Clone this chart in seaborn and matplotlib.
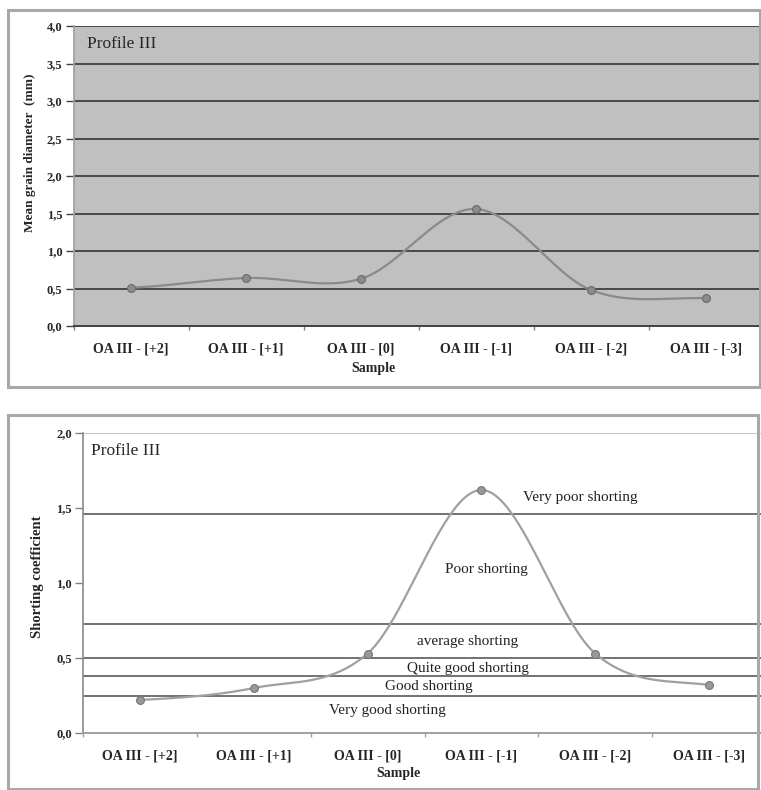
import matplotlib
matplotlib.use("Agg")
import matplotlib.pyplot as plt
import matplotlib.patches as mpatches
import numpy as np
import pandas as pd
import seaborn as sns

# Data
samples = ["OA III - [+2]", "OA III - [+1]", "OA III - [0]",
           "OA III - [-1]", "OA III - [-2]", "OA III - [-3]"]
grain_diameter = [0.51, 0.64, 0.63, 1.56, 0.48, 0.37]
sorting_coef = [0.22, 0.30, 0.53, 1.62, 0.53, 0.32]

# sorting class boundaries and their labels
class_limits = [1.46, 0.73, 0.50, 0.38, 0.25]
class_names = ["Very poor shorting", "Poor shorting", "average shorting",
               "Quite good shorting", "Good shorting", "Very good shorting"]
class_label_x = [3.87, 3.04, 2.88, 2.88, 2.54, 2.17]
class_label_y = [1.57, 1.09, 0.61, 0.43, 0.31, 0.15]

top_ticks = ["0,0", "0,5", "1,0", "1,5", "2,0", "2,5", "3,0", "3,5", "4,0"]
bottom_ticks = ["0,0", "0,5", "1,0", "1,5", "2,0"]

sns.set_theme(style="white")
plt.rcParams["font.family"] = ["Liberation Serif", "DejaVu Serif"]

W, H = 761, 790
fig = plt.figure(figsize=(W / 100, H / 100), dpi=100)


def fx(x):
    return x / W


def fy(y):
    return 1 - y / H


def smooth(values, n=50):
    # Excel-style smoothed line (Catmull-Rom through the points)
    p = np.asarray(values, float)
    p = np.concatenate([[p[0]], p, [p[-1]]])
    xs, ys = [], []
    t = np.linspace(0, 1, n)
    for i in range(len(values) - 1):
        p0, p1, p2, p3 = p[i], p[i + 1], p[i + 2], p[i + 3]
        m1 = (p2 - p0) / 2
        m2 = (p3 - p1) / 2
        h00 = 2 * t**3 - 3 * t**2 + 1
        h10 = t**3 - 2 * t**2 + t
        h01 = -2 * t**3 + 3 * t**2
        h11 = t**3 - t**2
        xs.append(i + t)
        ys.append(h00 * p1 + h10 * m1 + h01 * p2 + h11 * m2)
    return np.concatenate(xs), np.concatenate(ys)


# chart frames
for (x0, y0, x1, y1) in [(8, 10, 760, 387), (8, 415, 758, 789)]:
    fig.patches.append(mpatches.Rectangle(
        (fx(x0), fy(y1)), fx(x1 - x0), (y1 - y0) / H,
        transform=fig.transFigure, fill=False, edgecolor="#a8a8a8",
        linewidth=2.2))

# ---------- top chart: mean grain diameter ----------
ax1 = fig.add_axes([fx(73.5), fy(326), fx(690), 300 / H])
ax1.set_facecolor("#c0c0c0")
for v in np.arange(0.5, 4.01, 0.5):
    ax1.axhline(v, color="#484848", linewidth=1.4, zorder=1)
sx, sy = smooth(grain_diameter)
sns.lineplot(x=sx, y=sy, ax=ax1, color="#8a8a8a", linewidth=1.6,
             sort=False, zorder=3)
df1 = pd.DataFrame({"pos": range(len(samples)), "val": grain_diameter})
sns.scatterplot(data=df1, x="pos", y="val", ax=ax1, color="#8c8c8c",
                edgecolor="#6a6a6a", s=32, linewidth=0.8, zorder=4)
ax1.set(xlim=(-0.5, 5.5), ylim=(0, 4.0), xlabel="", ylabel="")
ax1.set_yticks(np.arange(0, 4.01, 0.5))
ax1.set_yticklabels(top_ticks, fontsize=9, fontweight="bold")
ax1.set_xticks(range(len(samples)))
ax1.set_xticklabels(samples, fontsize=10, fontweight="bold")
ax1.set_xticks(np.arange(-0.5, 5.6, 1), minor=True)
ax1.tick_params(axis="y", length=6, width=1, color="#404040", left=True,
                pad=2)
ax1.tick_params(axis="x", which="major", length=0, pad=12)
ax1.tick_params(axis="x", which="minor", length=3, color="#808080",
                bottom=True)
for s in ["top", "right"]:
    ax1.spines[s].set_visible(False)
ax1.spines["left"].set_color("#a0a0a0")
ax1.spines["bottom"].set_color("#404040")
ax1.spines["bottom"].set_linewidth(1.4)
ax1.text(0.019, 0.94, "Profile III", transform=ax1.transAxes,
         fontsize=12.5, va="center", ha="left")
fig.text(fx(30), fy(153), "Mean grain diameter  (mm)", rotation=90,
         ha="center", va="center", fontsize=9.5, fontweight="bold")
fig.text(fx(373), fy(368), "Sample", ha="center", va="center",
         fontsize=10, fontweight="bold")

# ---------- bottom chart: sorting coefficient ----------
ax2 = fig.add_axes([fx(83), fy(733), fx(683), 300 / H])
ax2.set_facecolor("white")
for v in class_limits:
    ax2.axhline(v, color="#5a5a5a", linewidth=1.2, zorder=1)
ax2.axhline(2.0, color="#c8c8c8", linewidth=1.5, zorder=1)
sx, sy = smooth(sorting_coef)
sns.lineplot(x=sx, y=sy, ax=ax2, color="#a0a0a0", linewidth=1.6,
             sort=False, zorder=3)
df2 = pd.DataFrame({"pos": range(len(samples)), "val": sorting_coef})
sns.scatterplot(data=df2, x="pos", y="val", ax=ax2, color="#999999",
                edgecolor="#777777", s=32, linewidth=0.8, zorder=4)
for name, lx, ly in zip(class_names, class_label_x, class_label_y):
    ax2.text(lx, ly, name, ha="center", va="center", fontsize=11,
             color="#222222", zorder=5)
ax2.set(xlim=(-0.5, 5.5), ylim=(0, 2.0), xlabel="", ylabel="")
ax2.set_yticks(np.arange(0, 2.01, 0.5))
ax2.set_yticklabels(bottom_ticks, fontsize=9, fontweight="bold")
ax2.set_xticks(range(len(samples)))
ax2.set_xticklabels(samples, fontsize=10, fontweight="bold")
ax2.set_xticks(np.arange(-0.5, 5.6, 1), minor=True)
ax2.tick_params(axis="y", length=6, width=1, color="#808080", left=True,
                pad=2)
ax2.tick_params(axis="x", which="major", length=0, pad=12)
ax2.tick_params(axis="x", which="minor", length=3, color="#a0a0a0",
                bottom=True)
for s in ["top", "right"]:
    ax2.spines[s].set_visible(False)
ax2.spines["left"].set_color("#8a8a8a")
ax2.spines["left"].set_linewidth(1.2)
ax2.spines["bottom"].set_color("#a0a0a0")
ax2.spines["bottom"].set_linewidth(1.4)
ax2.text(0.012, 0.94, "Profile III", transform=ax2.transAxes,
         fontsize=12.5, va="center", ha="left")
fig.text(fx(38), fy(577), "Shorting coefficient", rotation=90,
         ha="center", va="center", fontsize=10.5, fontweight="bold")
fig.text(fx(398), fy(774), "Sample", ha="center", va="center",
         fontsize=10, fontweight="bold")

fig.savefig("out.png", dpi=100)
